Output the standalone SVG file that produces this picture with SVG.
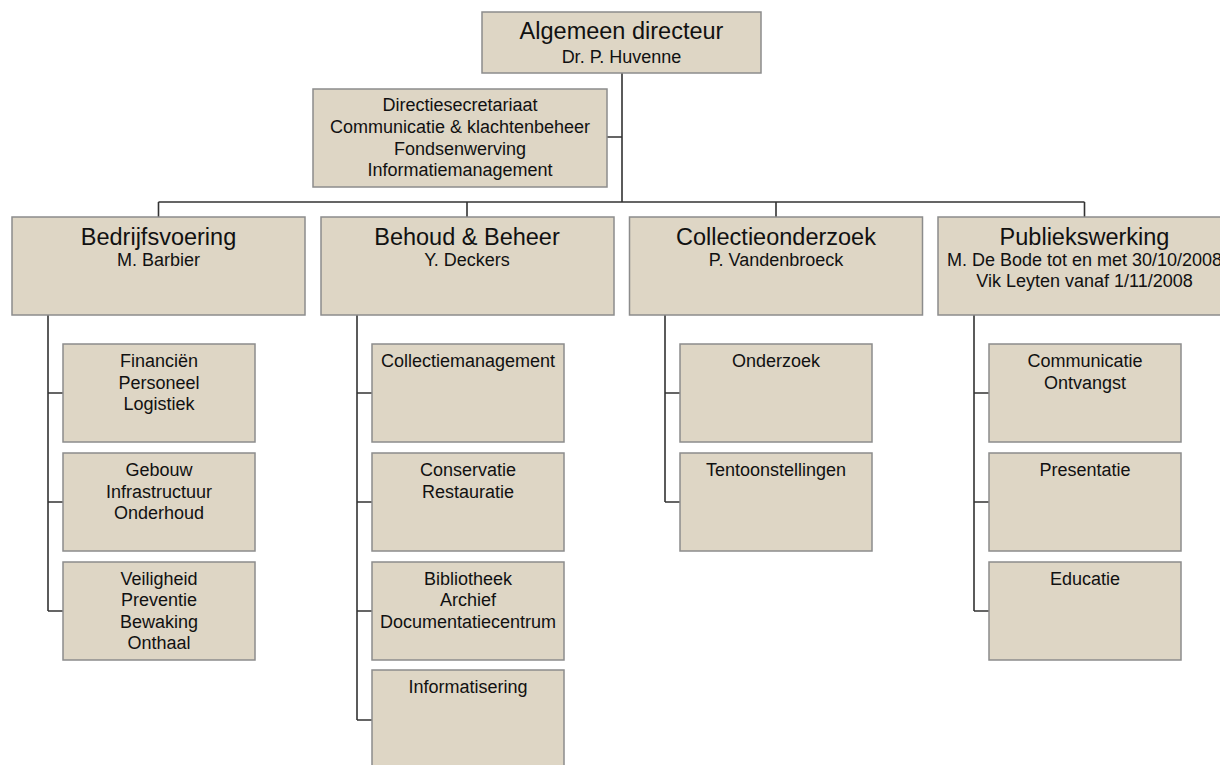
<svg xmlns="http://www.w3.org/2000/svg" width="1220" height="765" viewBox="0 0 1220 765">
<style>
.box{fill:#ded6c5;stroke:#8c8c8c;stroke-width:1.5}
.ln{fill:none;stroke:#333333;stroke-width:1.6}
text{font-family:"Liberation Sans",Arial,sans-serif;fill:#111111;text-anchor:middle}
.t{font-size:23.5px}
.s{font-size:18px}
</style>
<rect width="1220" height="765" fill="#ffffff"/>
<g id="connectors">
<path class="ln" d="M622,73 V202 M607,137 H622 M158.5,202 H1084.5 M158.5,202 V217 M467,202 V217 M776,202 V217 M1084.5,202 V217"/>
<path class="ln" d="M48,315 V611 M48,393 H63 M48,502 H63 M48,611 H63"/>
<path class="ln" d="M357,315 V720 M357,393 H372 M357,502 H372 M357,611 H372 M357,720 H372"/>
<path class="ln" d="M665,315 V502 M665,393 H680 M665,502 H680"/>
<path class="ln" d="M974,315 V611 M974,393 H989 M974,502 H989 M974,611 H989"/>
</g>
<g id="n-directeur"><rect class="box" x="482" y="12" width="279" height="61"/><text class="t" x="621.5" y="39">Algemeen directeur</text><text class="s" x="621.5" y="62.5">Dr. P. Huvenne</text></g>
<g id="n-secretariaat"><rect class="box" x="313" y="89" width="294" height="98"/><text class="s" x="460" y="111">Directiesecretariaat</text><text class="s" x="460" y="133">Communicatie &amp; klachtenbeheer</text><text class="s" x="460" y="154.5">Fondsenwerving</text><text class="s" x="460" y="176">Informatiemanagement</text></g>
<g id="n-bedrijfsvoering"><rect class="box" x="12" y="217" width="293" height="98"/><text class="t" x="158.5" y="245">Bedrijfsvoering</text><text class="s" x="158.5" y="266">M. Barbier</text></g>
<g id="n-behoud"><rect class="box" x="321" y="217" width="293" height="98"/><text class="t" x="467" y="245">Behoud &amp; Beheer</text><text class="s" x="467" y="266">Y. Deckers</text></g>
<g id="n-collectieonderzoek"><rect class="box" x="629.5" y="217" width="293" height="98"/><text class="t" x="776" y="245">Collectieonderzoek</text><text class="s" x="776" y="266">P. Vandenbroeck</text></g>
<g id="n-publiekswerking"><rect class="box" x="938" y="217" width="293" height="98"/><text class="t" x="1084.5" y="245">Publiekswerking</text><text class="s" x="1084.5" y="266">M. De Bode tot en met 30/10/2008</text><text class="s" x="1084.5" y="287">Vik Leyten vanaf 1/11/2008</text></g>
<g id="n-financien"><rect class="box" x="63" y="344" width="192" height="98"/><text class="s" x="159" y="366.5">Financiën</text><text class="s" x="159" y="388.5">Personeel</text><text class="s" x="159" y="410">Logistiek</text></g>
<g id="n-gebouw"><rect class="box" x="63" y="453" width="192" height="98"/><text class="s" x="159" y="475.5">Gebouw</text><text class="s" x="159" y="497.5">Infrastructuur</text><text class="s" x="159" y="519">Onderhoud</text></g>
<g id="n-veiligheid"><rect class="box" x="63" y="562" width="192" height="98"/><text class="s" x="159" y="584.5">Veiligheid</text><text class="s" x="159" y="606">Preventie</text><text class="s" x="159" y="627.5">Bewaking</text><text class="s" x="159" y="649">Onthaal</text></g>
<g id="n-collectiemanagement"><rect class="box" x="372" y="344" width="192" height="98"/><text class="s" x="468" y="366.5">Collectiemanagement</text></g>
<g id="n-conservatie"><rect class="box" x="372" y="453" width="192" height="98"/><text class="s" x="468" y="475.5">Conservatie</text><text class="s" x="468" y="497.5">Restauratie</text></g>
<g id="n-bibliotheek"><rect class="box" x="372" y="562" width="192" height="98"/><text class="s" x="468" y="584.5">Bibliotheek</text><text class="s" x="468" y="606">Archief</text><text class="s" x="468" y="627.5">Documentatiecentrum</text></g>
<g id="n-informatisering"><rect class="box" x="372" y="670" width="192" height="98"/><text class="s" x="468" y="692.5">Informatisering</text></g>
<g id="n-onderzoek"><rect class="box" x="680" y="344" width="192" height="98"/><text class="s" x="776" y="366.5">Onderzoek</text></g>
<g id="n-tentoonstellingen"><rect class="box" x="680" y="453" width="192" height="98"/><text class="s" x="776" y="475.5">Tentoonstellingen</text></g>
<g id="n-communicatie"><rect class="box" x="989" y="344" width="192" height="98"/><text class="s" x="1085" y="366.5">Communicatie</text><text class="s" x="1085" y="388.5">Ontvangst</text></g>
<g id="n-presentatie"><rect class="box" x="989" y="453" width="192" height="98"/><text class="s" x="1085" y="475.5">Presentatie</text></g>
<g id="n-educatie"><rect class="box" x="989" y="562" width="192" height="98"/><text class="s" x="1085" y="584.5">Educatie</text></g>
</svg>
